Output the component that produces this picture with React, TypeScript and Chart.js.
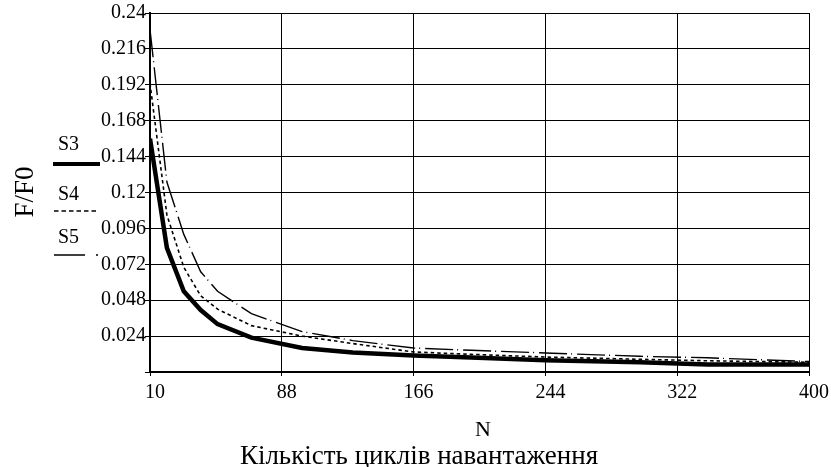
import React, { useEffect, useRef } from "react";
import { Chart, registerables } from "chart.js";

Chart.register(...registerables);

const nValues = [10, 20, 30, 40, 50, 70, 100, 130, 166, 200, 244, 300, 340, 400];
const s3Values = [0.156, 0.083, 0.054, 0.0414, 0.032, 0.023, 0.016, 0.013, 0.011, 0.0097, 0.0078, 0.0065, 0.005, 0.005];
const s4Values = [0.193, 0.105, 0.07, 0.051, 0.042, 0.031, 0.024, 0.019, 0.0134, 0.0118, 0.01, 0.0085, 0.0075, 0.0065];
const s5Values = [0.229, 0.127, 0.092, 0.067, 0.054, 0.039, 0.027, 0.021, 0.016, 0.0145, 0.0127, 0.0105, 0.0095, 0.007];

const xTicks = [10, 88, 166, 244, 322, 400];
const yTicks = [0, 0.024, 0.048, 0.072, 0.096, 0.12, 0.144, 0.168, 0.192, 0.216, 0.24];

const seriesNames = ["S3", "S4", "S5"];
const yTitle = "F/F0";
const xTitle = "N";
const xSubTitle = "Кількість циклів навантаження";

const FONT = "'Liberation Serif', 'Times New Roman', serif";

const textPlugin = {
  id: "textPlugin",
  afterDraw(chart: any) {
    const ctx = chart.ctx;
    ctx.save();
    ctx.fillStyle = "#000";
    ctx.textBaseline = "alphabetic";
    // y title
    ctx.font = `27px ${FONT}`;
    ctx.textAlign = "center";
    ctx.save();
    ctx.translate(33, 192);
    ctx.rotate(-Math.PI / 2);
    ctx.fillText(yTitle, 0, 0);
    ctx.restore();
    // x titles
    ctx.font = `22px ${FONT}`;
    ctx.fillText(xTitle, 483, 436);
    ctx.font = `27px ${FONT}`;
    ctx.fillText(xSubTitle, 419, 464);
    // legend
    const ds = chart.data.datasets;
    const legendY = [[150, 164], [200, 211], [243, 255]];
    ds.forEach((d: any, i: number) => {
      const [ty, ly] = legendY[i];
      ctx.font = `20px ${FONT}`;
      ctx.textAlign = "left";
      ctx.fillText(d.label, 58, ty);
      ctx.beginPath();
      ctx.strokeStyle = "#000";
      ctx.lineWidth = i === 0 ? 4 : d.borderWidth;
      if (i === 2) {
        ctx.setLineDash([31, 11, 2, 100]);
      } else if (i === 1) {
        ctx.setLineDash([4.5, 3]);
      } else {
        ctx.setLineDash([]);
      }
      ctx.moveTo(i === 0 ? 53 : 54, ly);
      ctx.lineTo(i === 0 ? 100 : 99, ly);
      ctx.stroke();
      ctx.setLineDash([]);
    });
    ctx.restore();
  },
};

export default function App() {
  const ref = useRef<HTMLCanvasElement | null>(null);
  useEffect(() => {
    if (!ref.current) return;
    const chart = new Chart(ref.current, {
      type: "line",
      data: {
        datasets: [
          {
            label: seriesNames[0],
            data: nValues.map((n, i) => ({ x: n, y: s3Values[i] })),
            borderColor: "#000",
            borderWidth: 4.5,
            pointRadius: 0,
            tension: 0,
            fill: false,
          },
          {
            label: seriesNames[1],
            data: nValues.map((n, i) => ({ x: n, y: s4Values[i] })),
            borderColor: "#000",
            borderWidth: 1.6,
            borderDash: [3.5, 3],
            pointRadius: 0,
            tension: 0,
            fill: false,
          },
          {
            label: seriesNames[2],
            data: nValues.map((n, i) => ({ x: n, y: s5Values[i] })),
            borderColor: "#000",
            borderWidth: 1.4,
            borderDash: [28, 4, 1, 5],
            pointRadius: 0,
            tension: 0,
            fill: false,
          },
        ],
      },
      options: {
        responsive: false,
        animation: false,
        layout: { padding: { top: 13, right: 22, left: 0, bottom: 0 } },
        plugins: { legend: { display: false }, tooltip: { enabled: false }, title: { display: false } },
        scales: {
          x: {
            type: "linear",
            min: 10,
            max: 400,
            afterBuildTicks: (scale: any) => {
              scale.ticks = xTicks.map((v) => ({ value: v }));
            },
            afterFit: (scale: any) => {
              scale.height = 95;
            },
            ticks: {
              color: "#000",
              font: { family: FONT, size: 20 },
              padding: 5,
              labelOffset: 5,
              maxRotation: 0,
              autoSkip: false,
              callback: (v: any) => String(v),
            },
            grid: { color: "#000", lineWidth: 1, tickLength: 4, drawTicks: true },
            border: { color: "#000", width: 2 },
          },
          y: {
            type: "linear",
            min: 0,
            max: 0.24,
            afterBuildTicks: (scale: any) => {
              scale.ticks = yTicks.map((v) => ({ value: v }));
            },
            afterFit: (scale: any) => {
              scale.width = 150;
            },
            ticks: {
              color: "#000",
              font: { family: FONT, size: 20 },
              padding: -1,
              autoSkip: false,
              callback: (v: any) => (v === 0 ? "" : String(parseFloat(Number(v).toFixed(3)))),
            },
            grid: { color: "#000", lineWidth: 1, tickLength: 5, drawTicks: true },
            border: { color: "#000", width: 2 },
          },
        },
      },
      plugins: [textPlugin],
    } as any);
    return () => chart.destroy();
  }, []);
  return (
    <div style={{ position: "fixed", left: 0, top: 0, width: 831, height: 467, background: "#fff" }}>
      <canvas ref={ref} width={831} height={467} />
    </div>
  );
}
